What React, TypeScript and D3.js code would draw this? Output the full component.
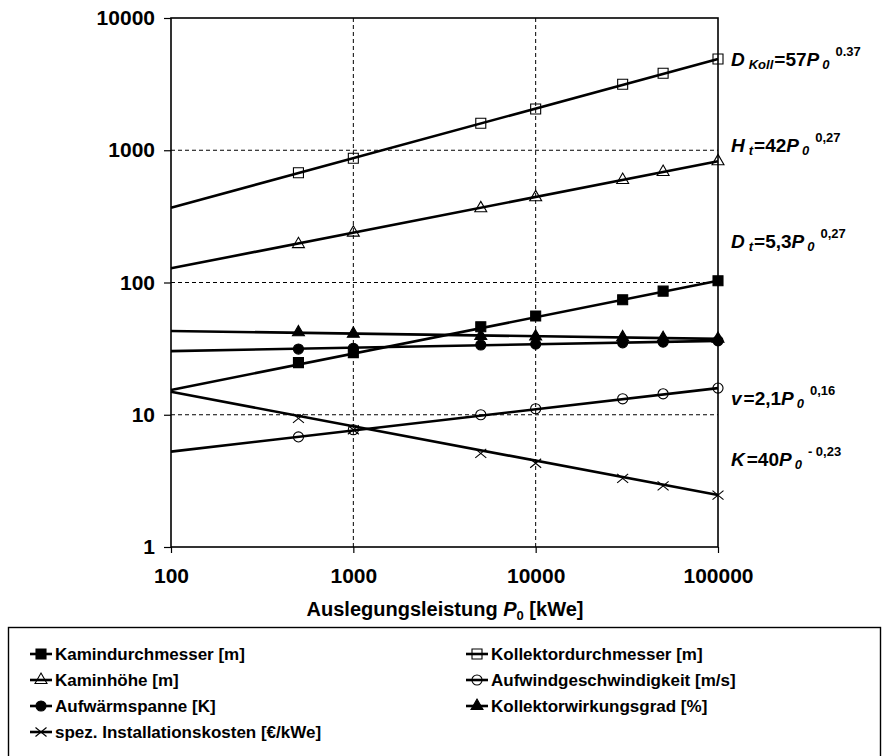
import React, { useEffect, useRef } from 'react';
import * as d3 from 'd3';

// Auslegungsleistung P0 [kWe] at which the markers sit
const powers = [500, 1000, 5000, 10000, 30000, 50000, 100000];
// the power-law trend lines run across the whole axis
const trendPowers = [100, 100000];

const kamindurchmesser = [24.8, 29.5, 46.3, 55.8, 74, 86, 103];
const kamindurchmesserTrend = [15.4, 103];
const kollektordurchmesser = [676, 869, 1600, 2050, 3155, 3820, 4900];
const kollektordurchmesserTrend = [368, 4900];
const kaminhoehe = [195, 238, 364, 441, 596, 685, 825];
const kaminhoeheTrend = [128, 825];
const aufwindgeschwindigkeit = [6.8, 7.7, 10.0, 11.1, 13.2, 14.4, 15.9];
const aufwindgeschwindigkeitTrend = [5.26, 15.9];
const aufwaermspanne = [31.4, 31.8, 33.7, 34.2, 35.0, 35.4, 36.2];
const aufwaermspanneTrend = [30.3, 36.2];
const kollektorwirkungsgrad = [42, 41, 39.4, 39, 38.5, 38, 37.5];
const kollektorwirkungsgradTrend = [43, 37.5];
const installationskosten = [9.4, 7.7, 5.1, 4.3, 3.3, 2.9, 2.47];
const installationskostenTrend = [14.9, 2.47];

const xTicks = [100, 1000, 10000, 100000];
const yTicks = [1, 10, 100, 1000, 10000];
const xGrid = [1000, 10000];
const yGrid = [10, 100, 1000];

const seriesNames = [
    'Kamindurchmesser [m]',
    'Kollektordurchmesser [m]',
    'Kaminhöhe [m]',
    'Aufwindgeschwindigkeit [m/s]',
    'Aufwärmspanne [K]',
    'Kollektorwirkungsgrad [%]',
    'spez. Installationskosten [€/kWe]'
];

// equation labels right of the plot: [main, subscript, factor, exponent]
const equations = [
    ['D', 'Koll', '=57', '0.37'],
    ['H', 't', '=42', '0,27'],
    ['D', 't', '=5,3', '0,27'],
    ['v', '', '=2,1', '0,16'],
    ['K', '', '=40', '- 0,23']
];

const FONT = '"Liberation Sans", Arial, Helvetica, sans-serif';

export default function App() {
    const ref = useRef<SVGSVGElement>(null);

    useEffect(() => {
        const svg = d3.select(ref.current);
        svg.selectAll('*').remove();

        const margin = { top: 18, left: 171, right: 718, bottom: 547 };

        const x = d3.scaleLog().domain([100, 100000]).range([margin.left, margin.right]);
        const y = d3.scaleLog().domain([1, 10000]).range([margin.bottom, margin.top]);

        const series = [
            { name: seriesNames[0], values: kamindurchmesser, trend: kamindurchmesserTrend, marker: 'square', filled: true },
            { name: seriesNames[1], values: kollektordurchmesser, trend: kollektordurchmesserTrend, marker: 'square', filled: false },
            { name: seriesNames[2], values: kaminhoehe, trend: kaminhoeheTrend, marker: 'triangle', filled: false },
            { name: seriesNames[3], values: aufwindgeschwindigkeit, trend: aufwindgeschwindigkeitTrend, marker: 'circle', filled: false },
            { name: seriesNames[4], values: aufwaermspanne, trend: aufwaermspanneTrend, marker: 'circle', filled: true },
            { name: seriesNames[5], values: kollektorwirkungsgrad, trend: kollektorwirkungsgradTrend, marker: 'triangle', filled: true },
            { name: seriesNames[6], values: installationskosten, trend: installationskostenTrend, marker: 'x', filled: false }
        ];

        const markerPath = (kind: string) => {
            if (kind === 'square') return d3.symbol().type(d3.symbolSquare).size(100)();
            if (kind === 'triangle') return d3.symbol().type(d3.symbolTriangle).size(62)();
            if (kind === 'circle') return d3.symbol().type(d3.symbolCircle).size(80)();
            return 'M-5.5,-4.5L5.5,4.5M-5.5,4.5L5.5,-4.5';
        };

        const drawMarker = (g: any, kind: string, filled: boolean, cx: number, cy: number) => {
            g.append('path')
                .attr('d', markerPath(kind))
                .attr('transform', 'translate(' + cx + ',' + cy + ')')
                .attr('fill', filled ? '#000' : 'none')
                .attr('stroke', '#000')
                .attr('stroke-width', 1.1);
        };

        // grid
        const grid = svg.append('g');
        xGrid.forEach(v => {
            grid.append('line')
                .attr('x1', x(v)).attr('x2', x(v))
                .attr('y1', margin.top).attr('y2', margin.bottom)
                .attr('stroke', '#000').attr('stroke-width', 1)
                .attr('stroke-dasharray', '4,3');
        });
        yGrid.forEach(v => {
            grid.append('line')
                .attr('x1', margin.left).attr('x2', margin.right)
                .attr('y1', y(v)).attr('y2', y(v))
                .attr('stroke', '#000').attr('stroke-width', 1)
                .attr('stroke-dasharray', '4,3');
        });

        // frame
        svg.append('rect')
            .attr('x', margin.left).attr('y', margin.top)
            .attr('width', margin.right - margin.left)
            .attr('height', margin.bottom - margin.top)
            .attr('fill', 'none').attr('stroke', '#000').attr('stroke-width', 1.6);

        // axes
        const yAxis = svg.append('g')
            .attr('transform', 'translate(' + margin.left + ',0)')
            .call(d3.axisLeft(y).tickValues(yTicks).tickSize(7).tickPadding(9).tickFormat(d3.format('d')));
        const xAxis = svg.append('g')
            .attr('transform', 'translate(0,' + margin.bottom + ')')
            .call(d3.axisBottom(x).tickValues(xTicks).tickSize(6).tickPadding(15).tickFormat(d3.format('d')));
        [xAxis, yAxis].forEach(a => {
            a.select('.domain').remove();
            a.selectAll('line').attr('stroke', '#000').attr('stroke-width', 1.2);
            a.selectAll('text')
                .attr('fill', '#000')
                .style('font-family', FONT)
                .style('font-weight', 'bold')
                .style('font-size', '21px');
        });

        // trend lines and markers
        const line = d3.line<number>()
            .x((d, i) => x(trendPowers[i]))
            .y(d => y(d));
        const plot = svg.append('g');
        series.forEach(s => {
            plot.append('path')
                .attr('d', line(s.trend))
                .attr('fill', 'none')
                .attr('stroke', '#000')
                .attr('stroke-width', 2.6);
        });
        series.forEach(s => {
            s.values.forEach((v, i) => drawMarker(plot, s.marker, s.filled, x(powers[i]), y(v)));
        });

        // axis title
        const title = svg.append('text')
            .attr('x', 445).attr('y', 616)
            .attr('text-anchor', 'middle')
            .style('font-family', FONT).style('font-weight', 'bold').style('font-size', '20px');
        title.append('tspan').text('Auslegungsleistung ');
        title.append('tspan').style('font-style', 'italic').text('P');
        title.append('tspan').attr('dy', 4).style('font-size', '13px').text('0');
        title.append('tspan').attr('dy', -4).text(' [kWe]');

        // equation labels
        const eqY = [66, 152, 248, 405, 466];
        equations.forEach((e, i) => {
            const t = svg.append('text')
                .attr('x', 731).attr('y', eqY[i])
                .style('font-family', FONT).style('font-weight', 'bold').style('font-size', '19px');
            t.append('tspan').style('font-style', 'italic').text(e[0]);
            if (e[1]) {
                t.append('tspan').attr('dx', 4).attr('dy', 3).style('font-style', 'italic').style('font-size', '13px').text(e[1]);
                t.append('tspan').attr('dx', 1).attr('dy', -3).text(e[2]);
            } else {
                t.append('tspan').attr('dx', 2).text(e[2]);
            }
            t.append('tspan').style('font-style', 'italic').text('P');
            t.append('tspan').attr('dx', 3).attr('dy', 3).style('font-style', 'italic').style('font-size', '13px').text('0');
            t.append('tspan').attr('dx', 6).attr('dy', -13).style('font-size', '13px').text(e[3]);
        });

        // legend
        svg.append('rect')
            .attr('x', 8.5).attr('y', 627.5)
            .attr('width', 872).attr('height', 140)
            .attr('fill', 'none').attr('stroke', '#000').attr('stroke-width', 1.4);
        const legend = svg.append('g');
        series.forEach((s, i) => {
            const col = i === 6 ? 0 : i % 2;
            const row = Math.floor(i / 2);
            const lx = col === 0 ? 30 : 466;
            const ly = 654 + row * 26;
            legend.append('line')
                .attr('x1', lx).attr('x2', lx + 22)
                .attr('y1', ly).attr('y2', ly)
                .attr('stroke', '#000').attr('stroke-width', 2.6);
            drawMarker(legend, s.marker, s.filled, lx + 11, ly);
            legend.append('text')
                .attr('x', lx + 25).attr('y', ly + 6)
                .style('font-family', FONT).style('font-weight', 'bold').style('font-size', '17px')
                .text(s.name);
        });
    }, []);

    return (
        <svg ref={ref} width={883} height={756}
            style={{ position: 'absolute', left: 0, top: 0, background: '#fff' }} />
    );
}
